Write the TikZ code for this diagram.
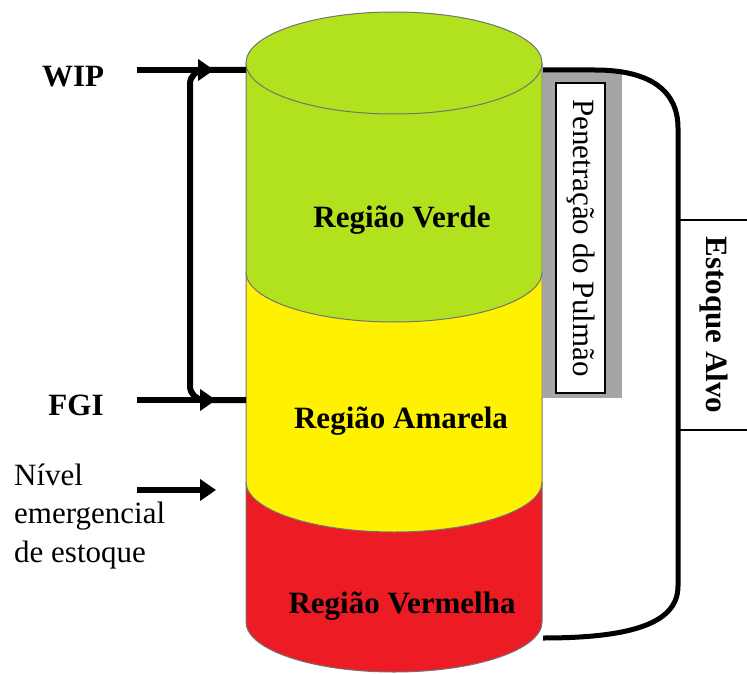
\documentclass[tikz,border=0pt]{standalone}
\usepackage{fontspec}
\setmainfont{Liberation Serif}
\usetikzlibrary{arrows.meta}
\definecolor{cgreen}{RGB}{178,226,30}
\definecolor{cyellow}{RGB}{255,242,0}
\definecolor{cred}{RGB}{237,28,36}
\definecolor{cgrey}{RGB}{165,165,165}
\begin{document}
\begin{tikzpicture}[x=1pt,y=-1pt,
  lbl/.style={font=\fontsize{31}{38.5}\selectfont, inner sep=0pt},
  blbl/.style={font=\fontsize{31}{38.5}\selectfont\bfseries, inner sep=0pt},
  bigarrow/.style={line width=6pt, -{Triangle[length=16pt,width=21pt]}},
  bracketline/.style={line width=6pt, rounded corners=14pt},
  rim/.style={draw=black!55, line width=1pt},
  thinline/.style={line width=1.3pt}]
\useasboundingbox (0,0) rectangle (747,674);
% ---- cylinder: red section
\fill[cred] (246,482) -- (246,622) arc[start angle=180,end angle=360,x radius=148pt,y radius=50pt]
  -- (542,482) arc[start angle=0,end angle=-180,x radius=148pt,y radius=50pt] -- cycle;
\draw[rim] (246,482) -- (246,622) arc[start angle=180,end angle=360,x radius=148pt,y radius=50pt] -- (542,482);
% yellow section
\fill[cyellow] (246,272) -- (246,482) arc[start angle=180,end angle=360,x radius=148pt,y radius=50pt]
  -- (542,272) arc[start angle=0,end angle=-180,x radius=148pt,y radius=50pt] -- cycle;
\draw[rim] (246,272) -- (246,482) arc[start angle=180,end angle=360,x radius=148pt,y radius=50pt] -- (542,272);
% green section
\fill[cgreen] (246,63) -- (246,272) arc[start angle=180,end angle=360,x radius=148pt,y radius=50pt]
  -- (542,63) arc[start angle=0,end angle=180,x radius=148pt,y radius=51pt] -- cycle;
\draw[rim] (246,63) -- (246,272) arc[start angle=180,end angle=360,x radius=148pt,y radius=50pt] -- (542,63);
\draw[rim, fill=cgreen] (394,63) ellipse[x radius=148pt,y radius=51pt];
% region labels
\node[blbl, anchor=base] (verde) at (402,227) {Região Verde};
\node[blbl, anchor=base] (amarela) at (401,428) {Região Amarela};
\node[blbl, anchor=base] (vermelha) at (402,613) {Região Vermelha};
% ---- buffer penetration bar
\fill[cgrey] (543,72) rectangle (622,398);
\node[draw, fill=white, line width=1.5pt, minimum width=49pt, minimum height=310pt, inner sep=0pt] (penbox) at (580.5,238) {};
\node[lbl, rotate=-90] (pen) at (penbox.center) {Penetração do Pulmão};
% ---- right bracket (target stock)
\coordinate (rTop) at (543,70);
\coordinate (rBot) at (543,638);
\draw[line width=5pt] (rTop) -- (595,70) .. controls (652,70) and (678,92) .. (678,128)
  -- (678,586) .. controls (678,622) and (635,638) .. (rBot);
\coordinate (tl1) at (680,220);
\coordinate (tr1) at (747,220);
\coordinate (tl2) at (680,430);
\coordinate (tr2) at (747,430);
\draw[thinline] (tl1) -- (tr1);
\draw[thinline] (tl2) -- (tr2);
\node[blbl, rotate=-90] (alvo) at (714,325) {Estoque Alvo};
% ---- left labels and arrows
\node[blbl, anchor=base] (wip) at (73,87) {WIP};
\node[blbl, anchor=base] (fgi) at (76,415) {FGI};
\node[lbl, anchor=north west, align=left] (nivel) at (14,463.5) {Nível\\emergencial\\de estoque};
\coordinate (wipS) at (137,70);
\coordinate (wipT) at (214,70);
\coordinate (fgiS) at (137,400);
\coordinate (fgiT) at (216,400);
\coordinate (nivS) at (137,490);
\coordinate (nivT) at (216,490);
\coordinate (cylTop) at (246,70);
\coordinate (cylFGI) at (246,400);
\draw[bracketline] (cylTop) -- (190,70) -- (190,400) -- (cylFGI);
\draw[bigarrow] (wipS) -- (wipT);
\draw[bigarrow] (fgiS) -- (fgiT);
\draw[bigarrow] (nivS) -- (nivT);
\end{tikzpicture}
\end{document}
